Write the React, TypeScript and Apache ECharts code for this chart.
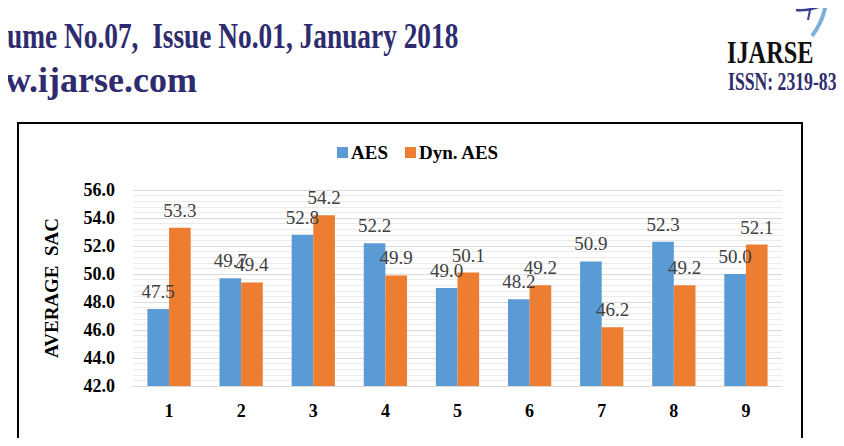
import React, { useEffect, useRef } from "react";
import * as echarts from "echarts";

// Experiment index on the x axis
const categories = ["1", "2", "3", "4", "5", "6", "7", "8", "9"];
// Average SAC per run
const aesValues = [47.5, 49.7, 52.8, 52.2, 49.0, 48.2, 50.9, 52.3, 50.0];
const dynAesValues = [53.3, 49.4, 54.2, 49.9, 50.1, 49.2, 46.2, 49.2, 52.1];
const seriesNames = ["AES", "Dyn. AES"];

const SERIF = "Liberation Serif";
const NAVY = "#2e2c6e";

export default function App() {
  const ref = useRef<HTMLDivElement>(null);

  useEffect(() => {
    if (!ref.current) return;
    const chart = echarts.init(ref.current, null, { renderer: "svg" });

    const labelStyle = {
      show: true,
      position: "top" as const,
      distance: 8,
      color: "#404040",
      fontFamily: SERIF,
      fontSize: 19,
      formatter: (p: any) => Number(p.value).toFixed(1),
    };

    const headerText = (
      text: string,
      x: number,
      y: number,
      size: number,
      fill: string,
      scaleX: number
    ) => ({
      type: "text",
      x,
      y,
      scaleX,
      style: {
        text,
        fontFamily: SERIF,
        fontWeight: "bold",
        fontSize: size,
        fill,
        textVerticalAlign: "middle",
      },
    });

    chart.setOption({
      animation: false,
      backgroundColor: "#ffffff",
      color: ["#5B9BD5", "#ED7D31"],
      textStyle: { fontFamily: SERIF },
      graphic: [
        // page header
        headerText("ume No.07,  Issue No.01, January 2018", 7, 36, 36, NAVY, 0.76),
        headerText("w.ijarse.com", 5, 80, 36, NAVY, 1.0),
        headerText("IJARSE", 727, 52, 32, "#111111", 0.76),
        headerText("ISSN: 2319-83", 728, 81, 26, NAVY, 0.68),
        // logo swoosh
        {
          type: "bezierCurve",
          shape: { x1: 826, y1: 2, x2: 812, y2: 36, cpx1: 824, cpy1: 20 },
          style: { stroke: "#7fb0dc", lineWidth: 4, fill: "none" },
        },
        {
          type: "bezierCurve",
          shape: { x1: 796, y1: 10, x2: 834, y2: 0, cpx1: 812, cpy1: 12 },
          style: { stroke: "#3a3f8f", lineWidth: 2.5, fill: "none" },
        },
        {
          type: "line",
          shape: { x1: 812, y1: 0, x2: 808, y2: 20 },
          style: { stroke: "#3a3f8f", lineWidth: 2 },
        },
        // chart frame
        {
          type: "rect",
          shape: { x: 18, y: 123, width: 784, height: 340 },
          style: { fill: "none", stroke: "#000000", lineWidth: 2 },
          z: 0,
        },
      ],
      legend: {
        left: 332,
        top: 138,
        itemWidth: 11,
        itemHeight: 11,
        itemGap: 17,
        icon: "rect",
        textStyle: {
          fontFamily: SERIF,
          fontWeight: "bold",
          fontSize: 19,
          color: "#000000",
          padding: [0, 0, 0, -2],
        },
        data: seriesNames,
      },
      grid: { left: 133, right: 62, top: 190, height: 196, containLabel: false },
      xAxis: {
        type: "category",
        data: categories,
        axisTick: { show: false },
        axisLine: { lineStyle: { color: "#d9d9d9" } },
        axisLabel: {
          margin: 16,
          fontFamily: SERIF,
          fontWeight: "bold",
          fontSize: 18,
          color: "#000000",
        },
      },
      yAxis: {
        type: "value",
        min: 42,
        max: 56,
        interval: 2,
        name: "AVERAGE  SAC",
        nameLocation: "middle",
        nameGap: 72,
        nameTextStyle: {
          fontFamily: SERIF,
          fontWeight: "bold",
          fontSize: 19,
          color: "#000000",
        },
        axisLine: { show: false },
        axisTick: { show: false },
        axisLabel: {
          margin: 18,
          fontFamily: SERIF,
          fontWeight: "bold",
          fontSize: 18,
          color: "#000000",
          formatter: (v: number) => v.toFixed(1),
        },
        splitLine: { lineStyle: { color: "#d9d9d9" } },
        minorTick: { show: false, splitNumber: 5 },
        minorSplitLine: { show: true, lineStyle: { color: "#ebebeb" } },
      },
      series: [
        {
          name: seriesNames[0],
          type: "bar",
          data: aesValues,
          barGap: "0%",
          barCategoryGap: "40%",
          label: labelStyle,
        },
        {
          name: seriesNames[1],
          type: "bar",
          data: dynAesValues,
          barGap: "0%",
          barCategoryGap: "40%",
          label: labelStyle,
        },
      ],
    });

    return () => chart.dispose();
  }, []);

  return <div ref={ref} style={{ width: 844, height: 446, margin: -8 }} />;
}
